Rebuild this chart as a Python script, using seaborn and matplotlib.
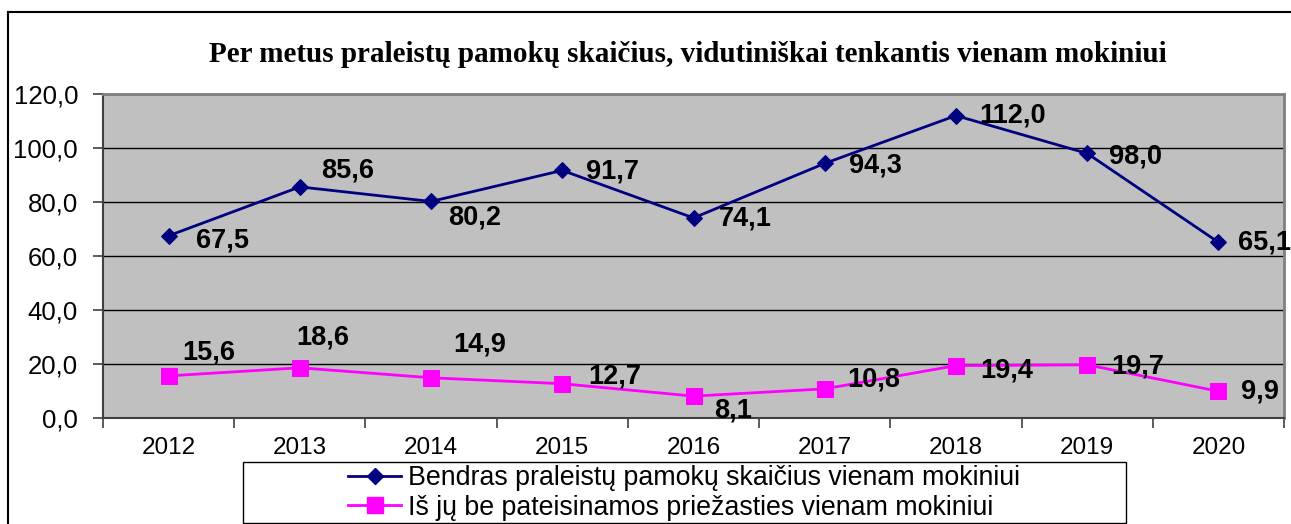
import numpy as np
import pandas as pd
import seaborn as sns
import matplotlib.pyplot as plt
from matplotlib.lines import Line2D
from matplotlib.patches import Rectangle
from matplotlib.ticker import FuncFormatter

# chart data
years = ['2012', '2013', '2014', '2015', '2016', '2017', '2018', '2019', '2020']
total_missed = [67.5, 85.6, 80.2, 91.7, 74.1, 94.3, 112.0, 98.0, 65.1]
unexcused_missed = [15.6, 18.6, 14.9, 12.7, 8.1, 10.8, 19.4, 19.7, 9.9]
series_names = ['Bendras praleistų pamokų skaičius vienam mokiniui',
                'Iš jų be pateisinamos priežasties vienam mokiniui']
title = 'Per metus praleistų pamokų skaičius, vidutiniškai tenkantis vienam mokiniui'

# label offsets (pixels right / down from the point), like the Excel labels
total_offsets = [(27, 5), (21, -16), (17, 16), (24, 1), (25, 1), (24, 2), (23, 0), (22, 3), (20, 0)]
unexc_offsets = [(14, -23), (-4, -30), (22, -33), (26, -7), (21, 14), (23, -9), (24, 5), (24, 2), (23, 0)]

plt.rcParams['font.family'] = ['Liberation Sans', 'DejaVu Sans']

W, H = 1291, 524
fig = plt.figure(figsize=(W / 100, H / 100), dpi=100)
ax = fig.add_axes([103 / W, 1 - 418 / H, (1284 - 103) / W, (418 - 94) / H])
ax.set_facecolor('#C0C0C0')

pos = np.arange(len(years))
sns.lineplot(x=pos, y=total_missed, ax=ax, color='#000080', lw=2,
             marker='D', markersize=8, markeredgecolor='#000080', zorder=3)
sns.lineplot(x=pos, y=unexcused_missed, ax=ax, color='#FF00FF', lw=2,
             marker='s', markersize=11, markeredgecolor='#FF00FF', zorder=3)

# data labels
for vals, offs in [(total_missed, total_offsets), (unexcused_missed, unexc_offsets)]:
    for i, v in enumerate(vals):
        dx, dy = offs[i]
        ax.annotate(f'{v:.1f}'.replace('.', ','), (pos[i], v),
                    xytext=(dx * 0.72, -dy * 0.72), textcoords='offset points',
                    ha='left', va='center', fontsize=19.5, fontweight='bold',
                    color='black', zorder=4, annotation_clip=False)

ax.set_xlim(-0.5, len(years) - 0.5)
ax.set_ylim(0, 120)
ax.set_yticks(np.arange(0, 121, 20))
ax.yaxis.set_major_formatter(FuncFormatter(lambda v, p: f'{v:.1f}'.replace('.', ',')))
ax.set_xticks(pos)
ax.set_xticklabels(years)
ax.set_xticks(np.arange(-0.5, len(years), 1), minor=True)
ax.tick_params(axis='x', which='major', length=0, pad=14, labelsize=17.5)
ax.tick_params(axis='x', which='minor', length=7, width=1.2, color='#404040')
ax.tick_params(axis='y', length=7, width=1.2, color='#404040', pad=11, labelsize=18.5)
ax.grid(axis='y', color='#000000', lw=1, zorder=1)
ax.set_axisbelow(True)
for side in ['top', 'right']:
    ax.spines[side].set_color('#808080')
    ax.spines[side].set_linewidth(2)
for side in ['left', 'bottom']:
    ax.spines[side].set_color('#404040')
    ax.spines[side].set_linewidth(1.5)

fig.text(688 / W, 1 - 55 / H, title, ha='center', va='center',
         family=['Liberation Serif', 'DejaVu Serif'], fontweight='bold', fontsize=21)

# outer chart frame
fig.add_artist(Line2D([8 / W, 1.0], [1 - 12 / H, 1 - 12 / H], color='black', lw=1.5))
fig.add_artist(Line2D([8 / W, 8 / W], [1 - 12 / H, 0], color='black', lw=1.5))

# legend box + entries
fig.add_artist(Rectangle((243 / W, 1 - 523 / H), (1126 - 243) / W, (523 - 462) / H,
                         transform=fig.transFigure, fill=False, ec='black', lw=1))
handles = [Line2D([], [], color='#000080', lw=2, marker='D', markersize=8),
           Line2D([], [], color='#FF00FF', lw=2, marker='s', markersize=11)]
fig.legend(handles, series_names, loc='center', bbox_to_anchor=(684 / W, 1 - 493 / H),
           frameon=False, fontsize=19.3, handlelength=1.95, handletextpad=0.26,
           labelspacing=0.12, borderpad=0)

fig.savefig('out.png', dpi=100)
